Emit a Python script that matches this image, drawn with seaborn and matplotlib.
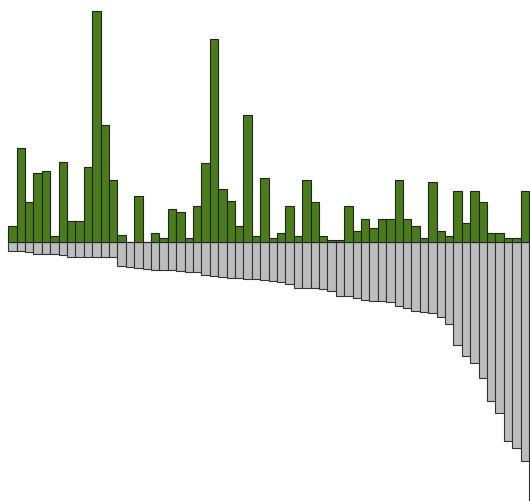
import numpy as np
import pandas as pd
import matplotlib
matplotlib.use('Agg')
import matplotlib.pyplot as plt
import seaborn as sns

# gains (green, above zero), one per item
gains = [15.4, 93.7, 39.4, 68.7, 71.0, 6.0, 80.0, 20.4, 20.4, 75.0,
         230.4, 117.0, 61.7, 6.7, 0.0, 45.7, 0.0, 9.2, 3.7, 32.4,
         29.7, 3.7, 36.0, 78.4, 202.7, 52.7, 41.0, 15.4, 127.0, 6.0,
         63.7, 4.0, 8.7, 36.0, 6.0, 61.7, 39.4, 6.0, 2.0, 2.0,
         36.0, 11.0, 22.7, 13.7, 22.7, 22.7, 61.7, 22.7, 15.4, 4.0,
         59.7, 11.0, 6.0, 50.4, 18.4, 50.4, 39.4, 8.7, 8.7, 4.0,
         4.0, 50.4, 0.0]

# losses (grey, below zero), sorted by size
losses = [9.0, 9.0, 10.0, 12.3, 12.3, 12.3, 13.3, 15.0, 15.0, 15.0,
          15.0, 15.0, 15.0, 24.0, 25.6, 26.6, 27.3, 28.0, 28.0, 28.0,
          29.0, 30.6, 30.6, 33.3, 34.0, 35.6, 36.6, 36.6, 37.3, 37.3,
          38.0, 39.0, 40.6, 42.3, 46.3, 46.6, 46.6, 47.3, 49.3, 54.6,
          54.6, 56.3, 58.3, 59.3, 59.3, 60.6, 64.6, 66.6, 69.0, 70.6,
          71.6, 75.0, 82.3, 103.3, 114.0, 121.3, 136.6, 159.6, 171.3, 199.3,
          206.3, 219.6, 290.0]

df = pd.DataFrame({'item': range(len(gains)),
                   'gain': gains,
                   'loss': [-v for v in losses]})

fig = plt.figure(figsize=(5.30, 5.02), dpi=100)
ax = fig.add_axes([0, 0, 1, 1])

sns.barplot(data=df, x='item', y='loss', color='#bdbdbd', saturation=1,
            width=1, edgecolor='#333333', linewidth=0.8, errorbar=None, ax=ax)
sns.barplot(data=df, x='item', y='gain', color='#4a7c1c', saturation=1,
            width=1, edgecolor='#222222', linewidth=0.8, errorbar=None, ax=ax)

# pixel layout: first bar starts at ~8px, pitch ~8.4px
ax.set_xlim(-0.5 - 8.3 / 8.4, (530 - 8.3) / 8.4 - 0.5)
ax.set_ylim(-259.3, 242.7)
ax.axis('off')

plt.savefig('out.png', dpi=100)
plt.close()
